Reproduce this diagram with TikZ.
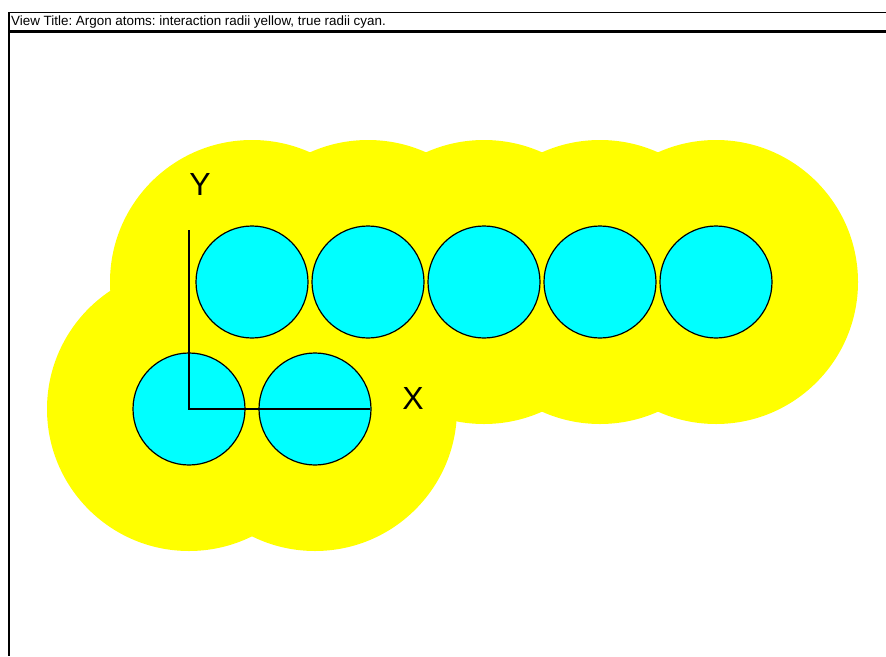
\documentclass[tikz,border=0pt]{standalone}
\usepackage{fontspec}
\setmainfont{Liberation Sans}
\frenchspacing
\definecolor{interactyellow}{RGB}{255,255,0}
\definecolor{truecyan}{RGB}{0,255,255}
\begin{document}
\begin{tikzpicture}[x=1pt,y=-1pt,
  interaction/.style={circle,fill=interactyellow,draw=none,minimum size=284pt,inner sep=0pt},
  trueradius/.style={circle,fill=truecyan,draw=black,line width=1.2pt,minimum size=112pt,inner sep=0pt},
  axisline/.style={draw=black,line width=1.2pt},
  axislabel/.style={font=\fontsize{32}{32}\selectfont,text=black,inner sep=0pt}]
\useasboundingbox (0,0) rectangle (886,656);
\fill[white] (0,0) rectangle (886,656);
% interaction radii
\foreach \n/\x/\y in {a/252/282,b/368/282,c/484/282,d/600/282,e/716/282,f/189/409,g/315/409}
  \node[interaction] (y\n) at (\x,\y) {};
% true radii
\foreach \n/\x/\y in {a/252/282,b/368/282,c/484/282,d/600/282,e/716/282,f/189/409,g/315/409}
  \node[trueradius] (c\n) at (\x,\y) {};
% axes
\coordinate (o) at (189,409);
\coordinate (ytip) at (189,230);
\coordinate (xtip) at (370,409);
\draw[axisline] (ytip) -- (o) -- (xtip);
\node[axislabel] (ylab) at (200,184) {Y};
\node[axislabel] (xlab) at (413,398) {X};
% frame and title
\draw[line width=1.4pt] (9,12.5) -- (886,12.5);
\draw[line width=3pt] (9,31.5) -- (886,31.5);
\draw[line width=2pt] (9,12) -- (9,656);
\node[anchor=west,inner sep=0pt,font=\fontsize{13.4}{13.4}\selectfont] (title) at (11,22) {\frenchspacing View Title: Argon atoms: interaction radii yellow, true radii cyan.};
\end{tikzpicture}
\end{document}
